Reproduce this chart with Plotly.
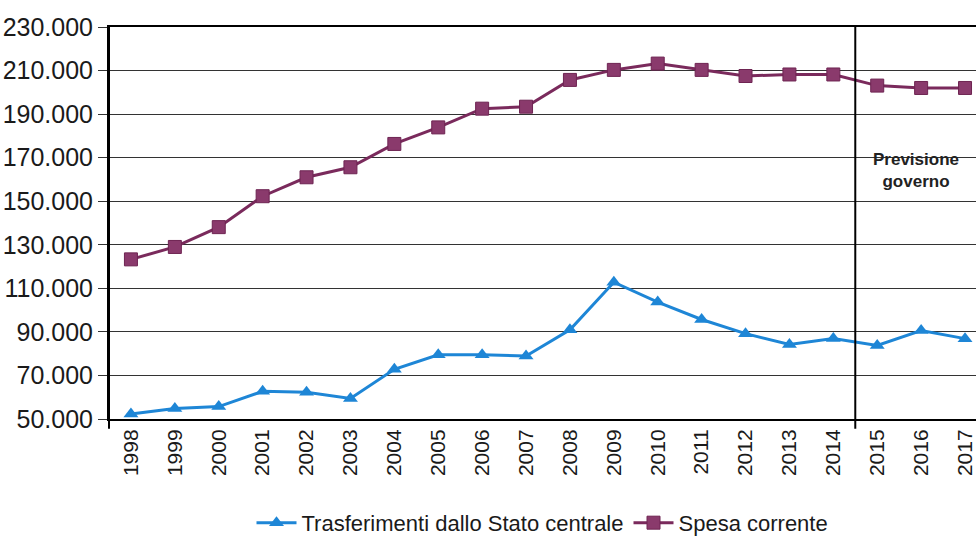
import plotly.graph_objects as go

years = [str(y) for y in range(1998, 2018)]
trasferimenti = [52300, 54800, 55700, 62700, 62300, 59400, 72800, 79500, 79500, 78900,
                 91000, 112800, 103700, 95700, 89200, 84200, 87000, 83800, 90600, 86900]
spesa_corrente = [123300, 129000, 138100, 152300, 161000, 165600, 176300, 183900, 192500, 193400,
                  205700, 210300, 213200, 210300, 207500, 208200, 208200, 203100, 202000, 202000]
y_ticks = [50000, 70000, 90000, 110000, 130000, 150000, 170000, 190000, 210000, 230000]

FONT = "Liberation Sans Narrow, Arial Narrow, Liberation Sans, sans-serif"

fig = go.Figure()
fig.add_trace(go.Scatter(
    x=years, y=trasferimenti, name="Trasferimenti dallo Stato centrale",
    mode="lines+markers",
    line=dict(color="#1E86D6", width=3),
    marker=dict(symbol="triangle-up", size=13, color="#1E86D6"),
))
fig.add_trace(go.Scatter(
    x=years, y=spesa_corrente, name="Spesa corrente",
    mode="lines+markers",
    line=dict(color="#7A2A5C", width=3),
    marker=dict(symbol="square", size=13, color="#8A3A6C", line=dict(color="#6E2452", width=1)),
))

fig.add_shape(type="line", xref="x", yref="paper", x0=16.5, x1=16.5, y0=-0.025, y1=1,
              line=dict(color="black", width=2))
fig.add_shape(type="line", xref="paper", yref="paper", x0=0, x1=0, y0=-0.025, y1=1,
              line=dict(color="black", width=2))

fig.add_annotation(x=17.88, y=164000, xref="x", yref="y", text="<b>Previsione<br>governo</b>",
                   showarrow=False, font=dict(family=FONT, size=17, color="#222"))

fig.update_layout(
    width=976, height=544,
    margin=dict(l=109, r=0, t=27, b=123),
    paper_bgcolor="white", plot_bgcolor="white",
    separators=",.",
    font=dict(family=FONT, color="#1a1a1a"),
    showlegend=True,
    legend=dict(orientation="h", x=0.5, xanchor="center", y=-0.265, yanchor="middle",
                font=dict(family=FONT, size=22), itemwidth=40, tracegroupgap=0),
    xaxis=dict(
        type="category", range=[-0.5, 19.25], automargin=False,
        tickangle=-90, tickfont=dict(family=FONT, size=21, color="#1a1a1a"),
        showgrid=False, showline=True, linecolor="black", linewidth=2, mirror=True,
        ticks="", ticklen=0,
    ),
    yaxis=dict(
        range=[50000, 230000], tickvals=y_ticks, tickformat=",.0f", automargin=False,
        tickfont=dict(family=FONT, size=25, color="#1a1a1a"),
        showgrid=True, gridcolor="#333333", gridwidth=1,
        showline=True, linecolor="black", linewidth=2,
        ticks="outside", ticklen=9, tickcolor="#333333", tickwidth=1,
        zeroline=False,
    ),
)

fig.write_html("out.html")
